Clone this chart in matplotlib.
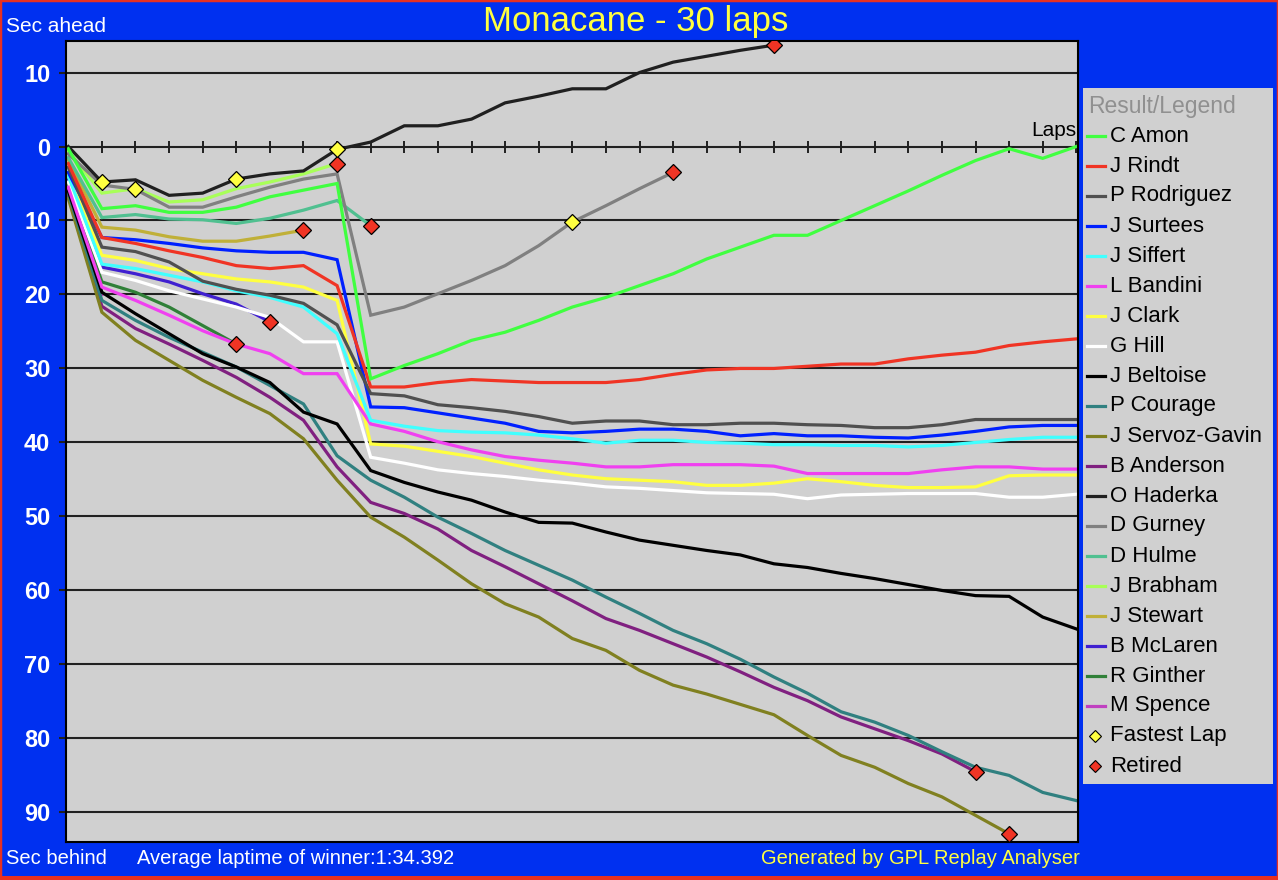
import matplotlib
matplotlib.use('Agg')
import matplotlib.pyplot as plt
from matplotlib.patches import Rectangle

# gap to winner's average pace per lap (sec, positive = behind)
amon = [0.3, 8.4, 8.0, 8.9, 8.9, 8.2, 6.8, 5.9, 5.0, 31.4, 29.6, 28.0, 26.2, 25.1, 23.5, 21.7,
        20.4, 18.8, 17.2, 15.2, 13.6, 12.0, 12.0, 10.0, 8.0, 6.0, 3.9, 1.9, 0.3, 1.6, 0.0]
rindt = [2.3, 12.3, 13.1, 14.1, 15.0, 16.1, 16.5, 16.1, 18.8, 32.5, 32.5, 31.9, 31.5, 31.7, 31.9, 31.9,
         31.9, 31.5, 30.8, 30.2, 30.0, 30.0, 29.7, 29.4, 29.4, 28.7, 28.2, 27.8, 26.9, 26.4, 26.0]
rodriguez = [2.8, 13.6, 14.2, 15.6, 18.2, 19.3, 20.1, 21.2, 24.1, 33.4, 33.7, 34.9, 35.3, 35.8, 36.5, 37.4,
             37.1, 37.1, 37.6, 37.6, 37.4, 37.4, 37.6, 37.7, 38.0, 38.0, 37.6, 36.9, 36.9, 36.9, 36.9]
surtees = [3.5, 12.3, 12.6, 13.1, 13.7, 14.1, 14.3, 14.3, 15.3, 35.2, 35.3, 36.0, 36.7, 37.4, 38.5, 38.7,
           38.5, 38.2, 38.2, 38.5, 39.1, 38.8, 39.1, 39.1, 39.3, 39.4, 39.0, 38.5, 37.9, 37.7, 37.7]
siffert = [4.0, 15.9, 16.5, 17.4, 18.3, 19.5, 20.4, 21.7, 25.3, 37.0, 37.8, 38.4, 38.6, 38.7, 39.0, 39.5,
           40.1, 39.7, 39.7, 40.0, 40.1, 40.3, 40.3, 40.4, 40.4, 40.6, 40.4, 40.0, 39.6, 39.3, 39.3]
bandini = [5.5, 19.0, 20.8, 22.8, 24.9, 26.7, 28.0, 30.7, 30.7, 37.5, 38.5, 39.9, 41.0, 41.9, 42.4, 42.8,
           43.3, 43.3, 43.0, 43.0, 43.0, 43.2, 44.2, 44.2, 44.2, 44.2, 43.7, 43.3, 43.3, 43.6, 43.6]
clark = [3.8, 14.7, 15.4, 16.5, 17.2, 17.9, 18.3, 19.0, 20.8, 40.2, 40.5, 41.2, 41.9, 42.8, 43.7, 44.4,
         44.9, 45.1, 45.3, 45.8, 45.8, 45.5, 44.9, 45.3, 45.8, 46.1, 46.1, 46.0, 44.5, 44.4, 44.4]
hill = [4.8, 17.0, 18.1, 19.5, 20.6, 21.7, 23.1, 26.4, 26.4, 42.0, 42.8, 43.7, 44.2, 44.6, 45.1, 45.5,
        46.0, 46.2, 46.5, 46.8, 46.9, 47.0, 47.6, 47.1, 47.0, 46.9, 46.9, 46.9, 47.4, 47.4, 47.0]
beltoise = [6.0, 19.7, 22.6, 25.3, 28.0, 29.8, 31.9, 35.9, 37.5, 43.8, 45.4, 46.7, 47.8, 49.4, 50.8, 50.9,
            52.1, 53.2, 53.9, 54.6, 55.2, 56.4, 56.9, 57.7, 58.4, 59.2, 60.0, 60.7, 60.8, 63.6, 65.2]
courage = [6.3, 20.8, 23.5, 25.8, 27.8, 29.8, 32.3, 34.8, 41.8, 45.1, 47.4, 50.1, 52.3, 54.6, 56.6, 58.6,
           60.9, 63.1, 65.4, 67.2, 69.3, 71.7, 73.9, 76.4, 77.8, 79.6, 81.8, 83.9, 85.0, 87.3, 88.4]
servoz = [7.0, 22.4, 26.2, 28.9, 31.6, 33.9, 36.1, 39.5, 45.1, 50.1, 52.8, 55.9, 59.1, 61.8, 63.6, 66.5,
          68.1, 70.8, 72.8, 74.0, 75.4, 76.8, 79.6, 82.3, 83.9, 86.1, 87.9, 90.4, 92.9]
anderson = [6.6, 21.6, 24.6, 26.7, 28.9, 31.2, 33.9, 37.0, 43.3, 48.1, 49.6, 51.7, 54.6, 56.8, 59.1, 61.4,
            63.8, 65.4, 67.2, 69.0, 71.0, 73.1, 74.9, 77.1, 78.7, 80.3, 82.1, 84.5]
haderka = [0.0, 4.8, 4.5, 6.6, 6.3, 4.4, 3.7, 3.3, 0.4, -0.6, -2.8, -2.8, -3.7, -5.9, -6.8, -7.8,
           -7.8, -10.0, -11.4, -12.2, -13.0, -13.7]
gurney = [1.0, 5.2, 5.8, 8.2, 8.2, 6.8, 5.5, 4.4, 3.7, 22.8, 21.7, 19.9, 18.1, 16.1, 13.4, 10.2, 8.0, 5.7, 3.5]
hulme = [1.5, 9.6, 9.2, 9.8, 9.9, 10.4, 9.7, 8.6, 7.3, 10.7]
brabham = [0.6, 6.3, 5.7, 7.5, 7.2, 5.7, 4.8, 3.7, 2.3]
stewart = [1.8, 10.9, 11.3, 12.2, 12.8, 12.8, 12.1, 11.3]
mclaren = [4.5, 16.3, 17.2, 18.3, 19.9, 21.3, 23.7]
ginther = [5.0, 18.3, 19.7, 21.7, 24.2, 26.7]
spence = [5.8, 20.0]

drivers = ['C Amon', 'J Rindt', 'P Rodriguez', 'J Surtees', 'J Siffert', 'L Bandini', 'J Clark', 'G Hill',
           'J Beltoise', 'P Courage', 'J Servoz-Gavin', 'B Anderson', 'O Haderka', 'D Gurney', 'D Hulme',
           'J Brabham', 'J Stewart', 'B McLaren', 'R Ginther', 'M Spence']
series = [amon, rindt, rodriguez, surtees, siffert, bandini, clark, hill, beltoise, courage, servoz,
          anderson, haderka, gurney, hulme, brabham, stewart, mclaren, ginther, spence]
colors = ['#40FF40', '#F03424', '#505050', '#0020FF', '#40FFFF', '#F040F0', '#FFFF40', '#FFFFFF',
          '#000000', '#308080', '#808020', '#802080', '#202020', '#808080', '#50C090',
          '#A8FF58', '#C0B038', '#4020D0', '#308038', '#C040C0']

# who retired (marker on last lap) and fastest-lap markers (driver, lap)
retired = ['B Anderson', 'J Servoz-Gavin', 'O Haderka', 'D Gurney', 'D Hulme', 'J Brabham',
           'J Stewart', 'B McLaren', 'R Ginther']
fastest = [('O Haderka', 1), ('J Brabham', 2), ('O Haderka', 5), ('O Haderka', 8), ('D Gurney', 15)]

total_laps = 30
ytick_vals = [-10, 0, 10, 20, 30, 40, 50, 60, 70, 80, 90]

W, H = 1278, 880
bg = '#0030F0'
font = 'Liberation Sans'

fig = plt.figure(figsize=(W / 100, H / 100), dpi=100, facecolor=bg)

# legend panel / free text layer in pixel coords
leg_ax = fig.add_axes([0, 0, 1, 1], zorder=0)
leg_ax.set_xlim(0, W)
leg_ax.set_ylim(H, 0)
leg_ax.axis('off')

ax = fig.add_axes([65.6 / W, 1 - 842 / H, (1078 - 65.6) / W, (842 - 41) / H], zorder=1)
ax.set_facecolor('#D0D0D0')

for v in ytick_vals:
    ax.axhline(v, color='#202020', lw=1.5, zorder=1)
ax.plot(range(1, total_laps + 1), [0] * total_laps, ls='none', marker='|', ms=8, mew=1.4,
        color='#202020', zorder=1)

for name, s, c in reversed(list(zip(drivers, series, colors))):
    ax.plot(range(len(s)), s, color=c, lw=2.3, zorder=2, solid_joinstyle='miter')

for name in retired:
    s = series[drivers.index(name)]
    ax.plot(len(s) - 1, s[-1], ls='none', marker='D', ms=8.5, mfc='#F03424', mec='black', mew=0.9, zorder=4)
for name, lap in fastest:
    s = series[drivers.index(name)]
    ax.plot(lap, s[lap], ls='none', marker='D', ms=8.5, mfc='#FFFF40', mec='black', mew=0.9, zorder=4)

ax.set_xlim(-0.08, 30.05)
ax.set_ylim(94.0, -14.26)
ax.set_xticks([])
ax.set_yticks(ytick_vals)
ax.set_yticklabels([str(abs(v)) for v in ytick_vals], color='white', fontsize=17,
                   fontweight='bold', family=font)
ax.tick_params(axis='y', length=5, width=1.5, color='#202020', pad=6)
for sp in ax.spines.values():
    sp.set_color('black')
    sp.set_linewidth(1.5)

ax.text(30.0, -0.9, 'Laps', ha='right', va='bottom', fontsize=15, color='black', family=font)

leg_ax.text(636, 21, 'Monacane - 30 laps', ha='center', va='center', fontsize=25,
            color='#FFFF40', family=font)
leg_ax.text(6, 27, 'Sec ahead', ha='left', va='center', fontsize=15, color='white', family=font)
leg_ax.text(6, 858, 'Sec behind', ha='left', va='center', fontsize=14.5, color='white', family=font)
leg_ax.text(137, 858, 'Average laptime of winner:1:34.392', ha='left', va='center', fontsize=14.5,
            color='white', family=font)
leg_ax.text(1080, 858, 'Generated by GPL Replay Analyser', ha='right', va='center', fontsize=14.5,
            color='#FFFF40', family=font)

leg_ax.add_patch(Rectangle((1083, 88), 190, 696, facecolor='#D0D0D0', edgecolor='none', zorder=0))
leg_ax.text(1088, 106, 'Result/Legend', ha='left', va='center', fontsize=16.5, color='#909090', family=font)
for i, (name, c) in enumerate(zip(drivers, colors)):
    y = 136 + 30 * i
    leg_ax.plot([1087, 1105], [y, y], color=c, lw=2.3)
    leg_ax.text(1110, y, name, ha='left', va='center', fontsize=16, color='black', family=font)
y = 136 + 30 * len(drivers)
leg_ax.plot(1095, y, ls='none', marker='D', ms=6, mfc='#FFFF40', mec='black', mew=0.8)
leg_ax.text(1110, y, 'Fastest Lap', ha='left', va='center', fontsize=16, color='black', family=font)
leg_ax.plot(1095, y + 30, ls='none', marker='D', ms=6, mfc='#F03424', mec='black', mew=0.8)
leg_ax.text(1110, y + 30, 'Retired', ha='left', va='center', fontsize=16, color='black', family=font)

# red frame around the window
fig.patches.append(Rectangle((0, 0), 1, 1, transform=fig.transFigure, fill=False,
                             edgecolor='#E83020', lw=2.5, zorder=10))
fig.patches.append(Rectangle((0, 0), 1, 4 / H, transform=fig.transFigure,
                             facecolor='#E83020', edgecolor='none', zorder=10))

fig.savefig('out.png', dpi=100, facecolor=bg)
